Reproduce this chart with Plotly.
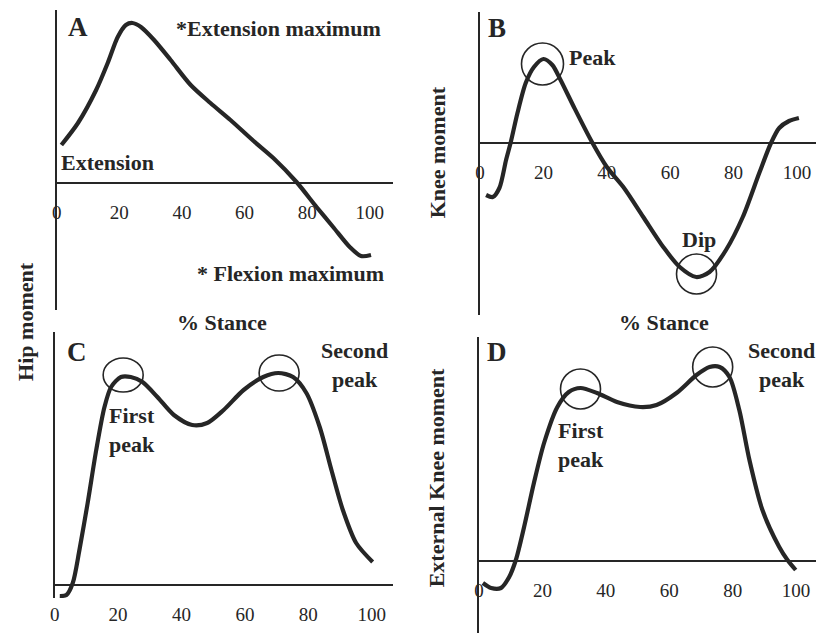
import plotly.graph_objects as go

W, H = 816, 633
FONT = "Liberation Serif"
INK = "#262626"

# ---------------- data (% stance, moment in arbitrary units) ----------------
hip_x = [1.5, 6.8, 12.6, 16.3, 19.5, 22.1, 24.2, 26.9, 31.1, 36.4, 42.8, 49.1,
         55.5, 62.9, 69.2, 76.6, 83.0, 88.3, 93.6, 97.2, 100.4]
hip_y = [3.7, 5.9, 9.2, 11.9, 14.5, 15.7, 15.9, 15.5, 14.2, 12.2, 9.7, 7.9,
         6.2, 4.1, 2.4, 0.0, -2.5, -4.5, -6.5, -7.4, -7.3]

knee_x = [1.9, 4.0, 6.1, 8.2, 9.7, 11.8, 14.4, 17.0, 20.0, 22.8, 25.4, 29.6,
          35.3, 40.0, 45.2, 51.5, 57.8, 63.0, 68.2, 72.4, 77.6, 82.9, 88.1,
          91.8, 94.4, 97.5, 100.6]
knee_y = [-5.3, -5.5, -4.6, -1.8, 0.0, 2.9, 5.9, 7.5, 8.3, 7.7, 6.2, 3.5,
          0.0, -2.5, -4.5, -7.5, -10.5, -12.5, -13.5, -13.0, -10.8, -7.5, -3.1,
          -0.1, 1.4, 2.1, 2.4]

hipC_x = [1.6, 3.7, 5.7, 7.8, 10.4, 13.1, 15.7, 17.8, 20.9, 24.0, 27.7, 32.4,
          37.6, 43.4, 48.1, 53.3, 59.6, 65.8, 70.5, 75.2, 79.4, 83.6, 87.3,
          90.9, 95.1, 100.3]
hipC_y = [-1.2, -1.1, 0.1, 3.4, 8.1, 13.4, 17.7, 19.7, 20.7, 20.7, 20.2, 18.7,
          16.9, 15.9, 16.1, 17.4, 19.4, 20.7, 21.1, 20.7, 19.1, 15.7, 11.4,
          7.4, 4.1, 2.2]

ekm_x = [1.2, 3.8, 6.9, 9.5, 11.6, 14.2, 17.3, 20.5, 24.7, 28.3, 32.0, 37.2,
         43.5, 50.8, 56.0, 62.3, 68.6, 72.7, 75.9, 79.0, 82.1, 85.3, 89.4,
         94.7, 97.3, 99.9]
ekm_y = [-2.3, -2.8, -2.8, -1.7, 0.0, 3.3, 7.7, 11.7, 15.3, 16.8, 17.2, 16.7,
         15.8, 15.3, 15.5, 16.7, 18.5, 19.3, 19.3, 18.3, 15.0, 10.0, 5.0,
         1.3, 0.0, -1.0]

tick_vals = [0, 20, 40, 60, 80, 100]
tick_text = ["0", "20", "40", "60", "80", "100"]

# circled features: (panel, x, y, rx_px, ry_px)
circles = [
    ("B", 19.7, 7.8, 21, 21),
    ("B", 68.3, -13.2, 20, 20),
    ("C", 21.6, 20.9, 20, 17),
    ("C", 70.8, 21.1, 20, 18),
    ("D", 32.0, 17.1, 20, 20),
    ("D", 73.7, 19.3, 20, 20),
]

# ---------------- panel geometry (pixels) ----------------
panels = {
    "A": dict(px=(52, 390), py=(10, 310), base=182, xr=(0, 107.3), yr=(-12.8, 17.2)),
    "B": dict(px=(478, 816), py=(12, 315), base=142, xr=(0, 106.0), yr=(-17.3, 13.0)),
    "C": dict(px=(50, 390), py=(332, 598), base=584, xr=(0, 106.6), yr=(-1.4, 25.2)),
    "D": dict(px=(477, 816), py=(337, 633), base=560, xr=(0, 106.3), yr=(-7.3, 22.3)),
}
series = {"A": (hip_x, hip_y), "B": (knee_x, knee_y),
          "C": (hipC_x, hipC_y), "D": (ekm_x, ekm_y)}

fig = go.Figure()
layout = dict(width=W, height=H, margin=dict(l=0, r=0, t=0, b=0),
              paper_bgcolor="white", plot_bgcolor="rgba(0,0,0,0)",
              showlegend=False, font=dict(family=FONT, color=INK))

shapes = []
for i, (name, p) in enumerate(panels.items(), start=1):
    xa = "xaxis" if i == 1 else f"xaxis{i}"
    ya = "yaxis" if i == 1 else f"yaxis{i}"
    xs = "x" if i == 1 else f"x{i}"
    ys = "y" if i == 1 else f"y{i}"
    layout[xa] = dict(
        domain=[p["px"][0] / W, p["px"][1] / W], range=list(p["xr"]),
        anchor="free", position=1 - p["base"] / H,
        showline=True, linecolor=INK, linewidth=1.6,
        showgrid=False, zeroline=False,
        ticks="outside", ticklen=13, tickcolor="rgba(0,0,0,0)",
        tickvals=tick_vals, ticktext=tick_text,
        tickfont=dict(family=FONT, size=19, color=INK), fixedrange=True,
    )
    layout[ya] = dict(
        domain=[1 - p["py"][1] / H, 1 - p["py"][0] / H], range=list(p["yr"]),
        anchor=xs, showline=True, linecolor=INK, linewidth=1.6,
        showgrid=False, zeroline=False, showticklabels=False, ticks="",
        fixedrange=True,
    )
    x, y = series[name]
    fig.add_trace(go.Scatter(x=x, y=y, mode="lines", xaxis=xs, yaxis=ys,
                             line=dict(color=INK, width=4.2, shape="spline",
                                       smoothing=0.8),
                             hoverinfo="skip"))
    for (pn, cx, cy, rx, ry) in circles:
        if pn == name:
            shapes.append(dict(type="circle", xref=xs, yref=ys,
                               xsizemode="pixel", ysizemode="pixel",
                               xanchor=cx, yanchor=cy,
                               x0=-rx, x1=rx, y0=-ry, y1=ry,
                               line=dict(color=INK, width=1.6)))

layout["shapes"] = shapes


def px_ann(text, x, y, size=22, bold=True, angle=0):
    t = f"<b>{text}</b>" if bold else text
    return dict(text=t, x=x / W, y=1 - y / H, xref="paper", yref="paper",
                showarrow=False, xanchor="center", yanchor="middle",
                textangle=angle, font=dict(family=FONT, size=size, color=INK))


anns = [
    px_ann("A", 73, 27, 27), px_ann("B", 495, 28, 27),
    px_ann("C", 72, 352, 27), px_ann("D", 495, 352, 27),
    px_ann("*Extension maximum", 275, 28),
    px_ann("Extension", 103, 162),
    px_ann("* Flexion maximum", 287, 273),
    px_ann("Peak", 591, 57),
    px_ann("Dip", 698, 240),
    px_ann("Second<br>peak", 352, 365),
    px_ann("First<br>peak", 128, 430),
    px_ann("Second<br>peak", 781, 365),
    px_ann("First<br>peak", 580, 445),
    px_ann("% Stance", 218, 322),
    px_ann("% Stance", 663, 322),
    px_ann("Hip moment", 20, 321, 22, True, -90),
    px_ann("Knee moment", 435, 152, 22, True, -90),
    px_ann("External Knee moment", 435, 478, 22, True, -90),
]
layout["annotations"] = anns

fig.update_layout(**layout)
fig.write_html("out.html",
               config={"displayModeBar": False, "staticPlot": True},
               post_script="document.body.style.margin='0';"
                           "document.body.style.overflow='hidden';")
